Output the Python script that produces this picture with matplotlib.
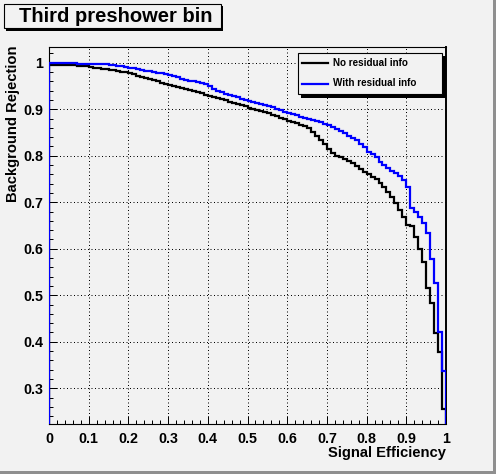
import numpy as np
import matplotlib.pyplot as plt
from matplotlib.patches import Rectangle
from matplotlib.lines import Line2D

plt.rcParams['font.family'] = ['Liberation Sans', 'DejaVu Sans']
plt.rcParams['font.weight'] = 'bold'

# histogram binning (100 bins in signal efficiency)
n_bins = 100
eff_lo, eff_hi = 0.0, 1.0

# background rejection per bin
rej_no_residual = [
	0.996, 0.996, 0.996, 0.996, 0.996, 0.996, 0.996, 0.994, 0.993, 0.992,
	0.990, 0.989, 0.988, 0.987, 0.986, 0.985, 0.984, 0.982, 0.980, 0.979,
	0.977, 0.975, 0.972, 0.970, 0.967, 0.965, 0.962, 0.960, 0.957, 0.955,
	0.952, 0.950, 0.948, 0.946, 0.944, 0.941, 0.939, 0.936, 0.934, 0.931,
	0.929, 0.926, 0.924, 0.921, 0.919, 0.916, 0.914, 0.911, 0.909, 0.906,
	0.903, 0.901, 0.898, 0.896, 0.893, 0.891, 0.888, 0.886, 0.881, 0.878,
	0.875, 0.872, 0.870, 0.867, 0.864, 0.860, 0.852, 0.843, 0.834, 0.826,
	0.815, 0.806, 0.800, 0.797, 0.793, 0.789, 0.785, 0.778, 0.771, 0.766,
	0.761, 0.755, 0.749, 0.741, 0.733, 0.722, 0.711, 0.699, 0.683, 0.668,
	0.651, 0.650, 0.626, 0.599, 0.572, 0.515, 0.483, 0.419, 0.377, 0.255,
]
rej_with_residual = [
	1.000, 1.000, 1.000, 1.000, 1.000, 1.000, 1.000, 0.997, 0.997, 0.997,
	0.997, 0.997, 0.997, 0.997, 0.997, 0.995, 0.995, 0.994, 0.993, 0.990,
	0.989, 0.989, 0.987, 0.985, 0.983, 0.982, 0.980, 0.978, 0.977, 0.975,
	0.973, 0.971, 0.969, 0.966, 0.963, 0.961, 0.960, 0.958, 0.957, 0.955,
	0.951, 0.944, 0.939, 0.936, 0.933, 0.931, 0.928, 0.926, 0.923, 0.920,
	0.918, 0.916, 0.914, 0.912, 0.910, 0.908, 0.905, 0.900, 0.898, 0.895,
	0.892, 0.889, 0.887, 0.884, 0.882, 0.880, 0.876, 0.874, 0.872, 0.869,
	0.866, 0.862, 0.857, 0.853, 0.848, 0.843, 0.838, 0.834, 0.826, 0.818,
	0.809, 0.803, 0.798, 0.787, 0.780, 0.773, 0.768, 0.762, 0.756, 0.748,
	0.733, 0.687, 0.680, 0.669, 0.655, 0.633, 0.579, 0.526, 0.421, 0.337,
]
labels = ['No residual info', 'With residual info']
colors = ['black', '#0000ff']

title = 'Third preshower bin'
xlabel = 'Signal Efficiency'
ylabel = 'Background Rejection'

W, H = 496, 474
bg = '#f2f2f2'

def fx(px):
	return px / W

def fy(py):
	return 1 - py / H

fig = plt.figure(figsize=(W / 100, H / 100), dpi=100, facecolor=bg)
ax = fig.add_axes([fx(49), fy(423.5), fx(446) - fx(49), fy(47) - fy(423.5)])
ax.set_facecolor(bg)

edges = np.linspace(eff_lo, eff_hi, n_bins + 1)
ax.stairs(rej_no_residual, edges, color=colors[0], lw=1.6, zorder=3)
ax.stairs(rej_with_residual, edges, color=colors[1], lw=1.6, zorder=3)

ax.set_xlim(0, 1)
ax.set_ylim(0.2243, 1.0338)
ax.set_xticks(np.arange(0, 1.01, 0.1))
ax.set_xticks(np.arange(0, 1.001, 0.02), minor=True)
ax.set_yticks(np.arange(0.3, 1.01, 0.1))
ax.set_yticks(np.arange(0.24, 1.03, 0.02), minor=True)
ax.set_xticklabels(['0'] + ['%.1f' % v for v in np.arange(0.1, 0.95, 0.1)] + ['1'])
ax.set_yticklabels(['%.1f' % v for v in np.arange(0.3, 0.95, 0.1)] + ['1'])
ax.tick_params(which='both', direction='in', top=False, right=False,
	labelsize=10.3, width=0.72)
ax.tick_params(which='major', length=6)
ax.tick_params(which='minor', length=3)
ax.tick_params(axis='x', pad=6)
ax.tick_params(axis='y', pad=4)
for lab in ax.get_xticklabels() + ax.get_yticklabels():
	lab.set_fontweight('bold')

ax.grid(True, which='major', color='black', lw=0.72, ls=(0, (1, 2.5)), zorder=1)
for s in ax.spines.values():
	s.set_linewidth(0.8)
ax.spines['right'].set_linewidth(1.4)

fig.text(fx(446), fy(457), xlabel, ha='right', va='baseline', fontsize=10.6, weight='bold')
fig.text(fx(13), fy(46), ylabel, ha='center', va='top', rotation=90, fontsize=10.6, weight='bold')

# title box with shadow
fig.add_artist(Rectangle((fx(6), fy(31)), fx(223) - fx(6), fy(6) - fy(31),
	transform=fig.transFigure, facecolor='black', edgecolor='none', zorder=5))
fig.add_artist(Rectangle((fx(3.5), fy(28)), fx(221) - fx(3.5), fy(3.5) - fy(28),
	transform=fig.transFigure, facecolor=bg, edgecolor='black', lw=0.8, zorder=6))
fig.text(fx(116), fy(16), title, ha='center', va='center', fontsize=14.5, weight='bold', zorder=7)

# legend box with shadow
fig.add_artist(Rectangle((fx(301), fy(98)), fx(446) - fx(301), fy(56) - fy(98),
	transform=fig.transFigure, facecolor='black', edgecolor='none', zorder=5))
fig.add_artist(Rectangle((fx(297.5), fy(94)), fx(442) - fx(297.5), fy(52.5) - fy(94),
	transform=fig.transFigure, facecolor=bg, edgecolor='black', lw=0.8, zorder=6))
for i, (lab, c) in enumerate(zip(labels, colors)):
	y = 62.5 + i * 21
	fig.add_artist(Line2D([fx(302), fx(328)], [fy(y), fy(y)], transform=fig.transFigure,
		color=c, lw=1.6, zorder=7))
	fig.text(fx(333), fy(y), lab, ha='left', va='center', fontsize=7.1, weight='bold', zorder=7)

# canvas bevel
fig.add_artist(Rectangle((fx(493), 0), fx(3), 1, transform=fig.transFigure,
	facecolor='#8f8f8f', edgecolor='none', zorder=8))
fig.add_artist(Rectangle((0, 0), 1, fx(3) * W / H, transform=fig.transFigure,
	facecolor='#8f8f8f', edgecolor='none', zorder=8))

fig.savefig('out.png', dpi=100, facecolor=bg)
